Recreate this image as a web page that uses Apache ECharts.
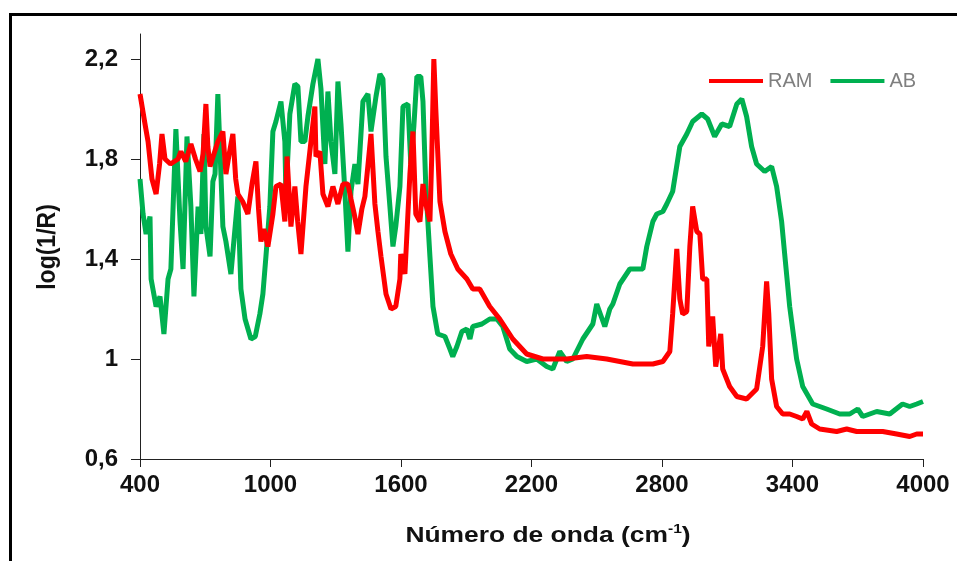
<!DOCTYPE html>
<html>
<head>
<meta charset="utf-8">
<script src="https://cdn.jsdelivr.net/npm/echarts@6/dist/echarts.min.js"></script>
<style>html,body{margin:0;padding:0;background:#fff;}#c{width:957px;height:561px;}</style>
</head>
<body>
<div id="c"></div>
<script>
// Wavenumber (cm-1) and log(1/R) values
const ramX = [400,423,437,455,474,490,501,515,540,575,588,610,634,655,676,690,703,712,722,740,758,781,795,810,827,840,850,872,896,915,933,945,956,970,988,1011,1025,1048,1066,1076,1094,1112,1125,1140,1163,1186,1204,1209,1227,1241,1264,1287,1310,1333,1356,1370,1385,1402,1420,1434,1462,1480,1494,1508,1531,1554,1576,1595,1599,1618,1641,1655,1668,1687,1701,1714,1733,1741,1751,1760,1779,1802,1829,1861,1903,1930,1962,2008,2054,2114,2178,2252,2362,2454,2546,2666,2758,2804,2836,2849,2868,2882,2895,2914,2928,2941,2960,2974,2987,3006,3015,3033,3047,3070,3079,3111,3144,3189,3235,3263,3281,3291,3304,3327,3355,3387,3419,3447,3466,3488,3525,3603,3649,3695,3755,3815,3879,3939,3971,4000];
const ramY = [2.06,1.94,1.87,1.72,1.66,1.78,1.90,1.80,1.78,1.80,1.83,1.79,1.86,1.80,1.75,1.82,2.02,1.85,1.77,1.82,1.87,1.91,1.74,1.82,1.90,1.72,1.66,1.63,1.58,1.70,1.79,1.60,1.47,1.52,1.45,1.58,1.69,1.70,1.55,1.81,1.53,1.69,1.55,1.42,1.69,1.87,2.01,1.81,1.83,1.66,1.61,1.69,1.62,1.70,1.70,1.64,1.58,1.50,1.60,1.65,1.90,1.62,1.51,1.41,1.26,1.20,1.21,1.32,1.42,1.34,1.74,1.91,1.58,1.55,1.70,1.62,1.55,1.80,2.20,2.00,1.63,1.51,1.42,1.36,1.32,1.28,1.28,1.21,1.16,1.08,1.02,1.00,1.00,1.01,1.00,0.98,0.98,0.99,1.03,1.18,1.44,1.24,1.18,1.19,1.45,1.61,1.51,1.50,1.32,1.32,1.05,1.17,0.97,1.10,0.96,0.89,0.85,0.84,0.88,1.05,1.31,1.18,0.92,0.81,0.78,0.78,0.77,0.76,0.79,0.74,0.72,0.71,0.72,0.71,0.71,0.71,0.70,0.69,0.70,0.70];
const abX = [400,414,428,446,451,474,492,510,529,542,565,584,598,616,634,648,667,680,694,703,722,735,745,758,772,781,795,818,850,864,883,910,930,951,965,979,997,1011,1025,1048,1066,1071,1089,1112,1126,1140,1158,1172,1195,1218,1232,1250,1264,1278,1296,1310,1324,1342,1356,1370,1388,1402,1425,1448,1462,1485,1503,1517,1531,1549,1563,1576,1595,1609,1632,1645,1659,1673,1691,1701,1714,1733,1747,1769,1802,1825,1838,1857,1880,1903,1917,1930,1972,2008,2041,2068,2100,2133,2178,2224,2270,2298,2330,2362,2390,2436,2482,2500,2537,2560,2574,2606,2652,2698,2712,2730,2758,2776,2804,2822,2849,2882,2914,2941,2983,3010,3042,3075,3111,3144,3167,3189,3212,3235,3272,3304,3327,3350,3364,3387,3419,3447,3493,3557,3617,3663,3700,3723,3787,3847,3906,3939,3971,4000];
const abY = [1.72,1.58,1.50,1.57,1.32,1.21,1.25,1.10,1.32,1.36,1.92,1.55,1.36,1.89,1.61,1.25,1.61,1.50,1.90,1.53,1.41,1.71,1.74,2.06,1.74,1.53,1.47,1.34,1.65,1.28,1.16,1.08,1.09,1.18,1.26,1.41,1.61,1.91,1.95,2.03,1.87,1.65,1.98,2.10,2.09,1.87,1.87,1.97,2.10,2.20,2.08,1.78,2.07,1.87,1.74,2.11,1.94,1.67,1.43,1.67,1.78,1.70,2.03,2.06,1.91,2.05,2.14,2.12,1.81,1.61,1.45,1.53,1.69,2.01,2.02,1.78,1.93,2.13,2.13,2.03,1.69,1.41,1.21,1.10,1.09,1.04,1.01,1.05,1.11,1.12,1.08,1.13,1.14,1.16,1.16,1.13,1.04,1.01,0.99,1.00,0.97,0.96,1.03,0.99,1.00,1.08,1.14,1.22,1.13,1.20,1.22,1.30,1.36,1.36,1.36,1.45,1.55,1.58,1.59,1.62,1.67,1.85,1.90,1.95,1.98,1.96,1.89,1.94,1.93,2.02,2.04,1.97,1.85,1.78,1.75,1.77,1.69,1.55,1.42,1.21,1.00,0.89,0.82,0.80,0.78,0.78,0.80,0.77,0.79,0.78,0.82,0.81,0.82,0.83];
const xTicks = [400,1000,1600,2200,2800,3400,4000];
const yTicks = [0.6,1,1.4,1.8,2.2];
const seriesNames = ['RAM','AB'];

const zip = (xs, ys) => xs.map((x, i) => [x, ys[i]]);
const chart = echarts.init(document.getElementById('c'), null, {renderer: 'canvas'});
const labelFont = {fontFamily: 'Liberation Sans, Arial, sans-serif', fontWeight: 'bold', fontSize: 24, color: '#111'};
chart.setOption({
  animation: false,
  backgroundColor: '#fff',
  grid: {left: 140, top: 34, width: 783, height: 425, outerBoundsMode: 'none', containLabel: false},
  legend: {
    data: seriesNames, left: 704, top: 66, icon: 'rect', itemWidth: 54, itemHeight: 4, itemGap: 18,
    textStyle: {color: '#7f7f7f', fontSize: 20, fontFamily: 'Liberation Sans, Arial, sans-serif'}
  },
  xAxis: {
    type: 'value', min: 400, max: 4000, interval: 600,
    axisLine: {show: true, onZero: false, lineStyle: {color: '#222', width: 1}},
    axisTick: {show: true, inside: false, length: 8, lineStyle: {color: '#222'}, customValues: xTicks},
    axisLabel: Object.assign({margin: 14, customValues: xTicks, formatter: v => String(v)}, labelFont),
    splitLine: {show: false}
  },
  yAxis: {
    type: 'value', min: 0.6, max: 2.3,
    axisLine: {show: true, onZero: false, lineStyle: {color: '#222', width: 1}},
    axisTick: {show: true, inside: false, length: 9, lineStyle: {color: '#222'}, customValues: yTicks},
    axisLabel: Object.assign({margin: 22, customValues: yTicks, formatter: v => String(v).replace('.', ',')}, labelFont),
    splitLine: {show: false}
  },
  graphic: [
    {type: 'rect', shape: {x: 10.5, y: 14.5, width: 1000, height: 600}, style: {fill: 'none', stroke: '#000', lineWidth: 3}, silent: true},
    {type: 'text', x: 548, y: 536, scaleX: 1.2,
      style: {text: '{a|Número de onda (cm}{s|-1}{a|)}', align: 'center', verticalAlign: 'middle',
        rich: {a: {fontFamily: 'Liberation Sans, Arial, sans-serif', fontWeight: 'bold', fontSize: 22, fill: '#111', lineHeight: 26},
               s: {fontFamily: 'Liberation Sans, Arial, sans-serif', fontWeight: 'bold', fontSize: 13, fill: '#111', verticalAlign: 'top', lineHeight: 26, padding: [0,0,10,0]}}}},
    {type: 'text', x: 48, y: 247, rotation: Math.PI / 2, scaleY: 1.15,
      style: {text: 'log(1/R)', align: 'center', verticalAlign: 'middle', fontFamily: 'Liberation Sans, Arial, sans-serif', fontWeight: 'bold', fontSize: 23, fill: '#111'}}
  ],
  series: [
    {name: 'RAM', type: 'line', data: zip(ramX, ramY), showSymbol: false, color: '#ff0000', lineStyle: {width: 5, color: '#ff0000'}, z: 3},
    {name: 'AB', type: 'line', data: zip(abX, abY), showSymbol: false, color: '#00b050', lineStyle: {width: 5, color: '#00b050'}, z: 2}
  ]
});
</script>
</body>
</html>
